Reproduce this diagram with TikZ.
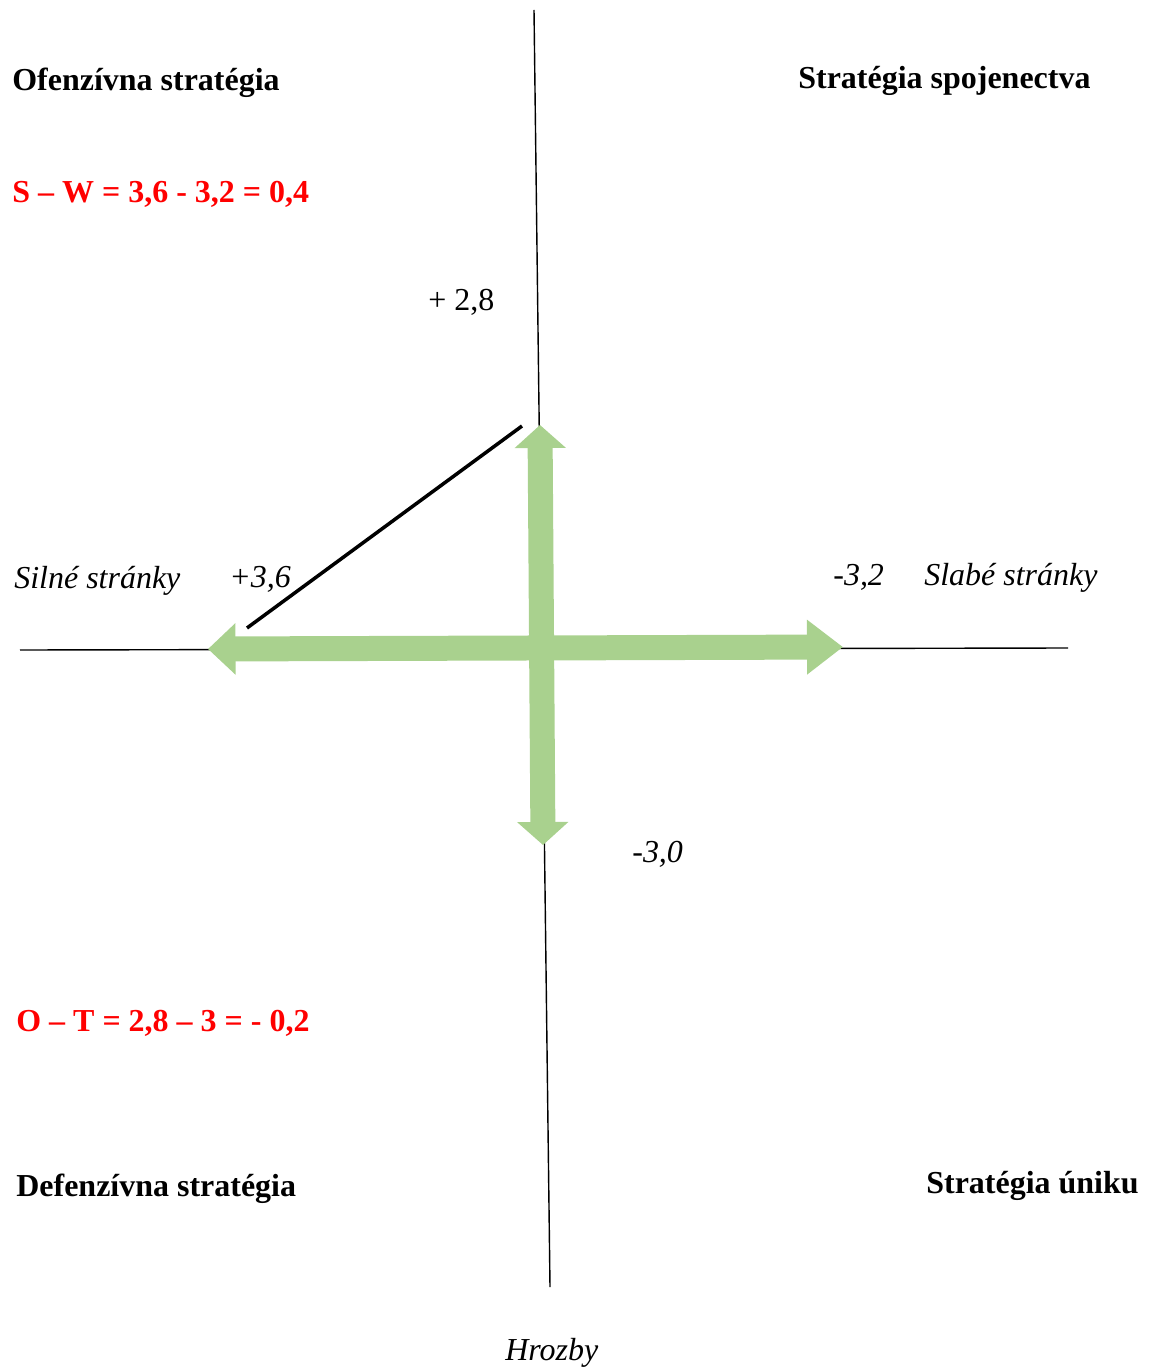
\documentclass[tikz,border=0pt]{standalone}
\usepackage{fontspec}
\setmainfont{Liberation Serif}
\usepackage{tikz}
\usetikzlibrary{arrows.meta,positioning,calc}
\usepackage{xcolor}
\definecolor{arrowgreen}{RGB}{169,209,142}
\definecolor{resultred}{RGB}{255,0,0}

\begin{document}
\begin{tikzpicture}[x=0.02cm,y=-0.02cm,
    lbl/.style={inner sep=0pt,anchor=base west,font=\fontsize{18.2}{21}\selectfont},
    ilbl/.style={lbl,font=\fontsize{18.2}{21}\selectfont\itshape},
    quadrant/.style={lbl,font=\fontsize{18.2}{21}\selectfont\bfseries},
    result/.style={quadrant,text=resultred},
    bigarrow/.style={arrowgreen,line width=0.5cm}]
    \useasboundingbox (0,0) rectangle (1151,1368);
    % Axis
    \coordinate (top) at (534,10);
    \coordinate (bottom) at (550,1287);
    \coordinate (left) at (20,650);
    \coordinate (right) at (1068,648);
    \draw[line width=0.8pt] (top) -- (bottom);
    \draw[line width=0.8pt] (left) -- (right);
    % Green arrows
    \coordinate (sTip) at (208,649);
    \coordinate (wTip) at (843,647);
    \coordinate (oTip) at (540,425);
    \coordinate (tTip) at (543,845);
    \draw[bigarrow,{Triangle[length=0.55cm,width=1.0cm]}-{Triangle[length=0.72cm,width=1.05cm]}] (sTip) -- (wTip);
    \draw[bigarrow,{Triangle[length=0.46cm,width=1.0cm]}-{Triangle[length=0.46cm,width=1.0cm]}] (oTip) -- (tTip);
    % Diagonal
    \coordinate (dA) at (247,628);
    \coordinate (dB) at (522,426);
    \draw[line width=2pt] (dA) -- (dB);
    % Quadrant titles
    \node[quadrant] (ofenz) at (12,91) {Ofenzívna stratégia};
    \node[quadrant] (spoj) at (798,89) {Stratégia spojenectva};
    \node[quadrant] (defenz) at (16,1196) {Defenzívna stratégia};
    \node[quadrant] (unik) at (926,1193) {Stratégia úniku};
    % Results
    \node[result] (sw) at (12,203) {S – W = 3,6 - 3,2 = 0,4};
    \node[result] (ot) at (16,1031) {O – T = 2,8 – 3 = - 0,2};
    % Axis labels
    \node[lbl] (opp) at (428,311) {+ 2,8};
    \node[ilbl] (silne) at (14,588) {Silné stránky};
    \node[ilbl] (sval) at (229,587) {+3,6};
    \node[ilbl] (wval) at (833,585) {-3,2};
    \node[ilbl] (slabe) at (924,585) {Slabé stránky};
    \node[ilbl] (tval) at (632,862) {-3,0};
    \node[ilbl] (hrozby) at (505,1360) {Hrozby};
  \end{tikzpicture}
\end{document}
